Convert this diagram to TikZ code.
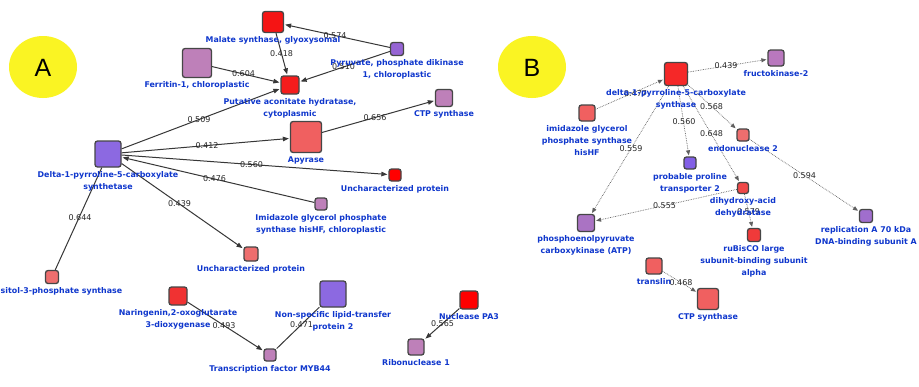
\documentclass[tikz,border=0pt]{standalone}
\usepackage{fontspec}
\setmainfont{DejaVu Sans}
\newfontfamily\letterfont{Liberation Sans}
\usetikzlibrary{arrows.meta,calc,positioning}

\definecolor{bord}{RGB}{70,70,70}
\definecolor{labblue}{RGB}{15,55,205}
\definecolor{elabc}{RGB}{40,40,40}
\definecolor{edgec}{RGB}{55,55,55}
\definecolor{edgeBc}{RGB}{95,95,95}
\definecolor{yel}{RGB}{250,244,35}
\definecolor{cRed0}{RGB}{255,0,0}
\definecolor{cRed1}{RGB}{245,20,20}
\definecolor{cRed2}{RGB}{245,28,28}
\definecolor{cRed3}{RGB}{240,50,50}
\definecolor{cSalm}{RGB}{240,96,96}
\definecolor{cSalm2}{RGB}{238,110,110}
\definecolor{cPink}{RGB}{190,128,185}
\definecolor{cPurp}{RGB}{140,105,225}
\definecolor{cPurp2}{RGB}{150,100,212}
\definecolor{bRed}{RGB}{245,40,40}
\definecolor{bRed2}{RGB}{240,72,72}
\definecolor{bRed3}{RGB}{240,58,58}
\definecolor{bSalm}{RGB}{240,96,96}
\definecolor{bSalm2}{RGB}{238,110,110}
\definecolor{bPinkP}{RGB}{185,120,190}
\definecolor{bPurp}{RGB}{130,95,230}
\definecolor{bPurp2}{RGB}{160,110,205}
\definecolor{bPurp3}{RGB}{170,115,195}

\tikzset{
  box/.style={draw=bord, line width=1.3pt, rounded corners=2.5pt, minimum size=#1, inner sep=0pt},
  lab/.style={text=labblue, font=\bfseries\fontsize{7.9}{12}\selectfont, align=center, inner sep=0pt},
  elab/.style={text=elabc, font=\fontsize{8}{9}\selectfont, inner sep=0pt},
  edgeA/.style={draw=edgec, line width=1pt, -{Triangle[length=6pt,width=4.5pt]}, shorten >=1pt},
  edgeAn/.style={draw=edgec, line width=1pt},
  edgeB/.style={draw=edgeBc, line width=0.7pt, densely dotted, -{Triangle[length=5pt,width=4pt]}, shorten >=1pt},
  bigletter/.style={font=\letterfont\fontsize{25}{25}\selectfont, text=black, inner sep=0pt}
}

\begin{document}
\begin{tikzpicture}[x=1pt,y=-1pt]
\useasboundingbox (0,0) rectangle (919,386);
\fill[white] (0,0) rectangle (919,386);

% panel letters
\fill[yel] (43,67) ellipse [x radius=34, y radius=31];
\node[bigletter] (letA) at (43,67.5) {A};
\fill[yel] (532,67) ellipse [x radius=34, y radius=31];
\node[bigletter] (letB) at (532,68) {B};

% ---------- Panel A nodes ----------
\node[box=21, fill=cRed1] (mal) at (273,22) {};
\node[box=13, fill=cPurp2] (pyr) at (397,49) {};
\node[box=29, fill=cPink] (fer) at (197,63) {};
\node[box=18, fill=cRed2] (put) at (290,85) {};
\node[box=17, fill=cPink] (ctpA) at (444,98) {};
\node[box=31, fill=cSalm] (apy) at (306,137) {};
\node[box=26, fill=cPurp] (p5cs) at (108,154) {};
\node[box=12, fill=cRed0] (unc1) at (395,175) {};
\node[box=12, fill=cPink] (imiA) at (321,204) {};
\node[box=14, fill=cSalm2] (unc2) at (251,254) {};
\node[box=13, fill=cSalm2] (ino) at (52,277) {};
\node[box=18, fill=cRed3] (nar) at (178,296) {};
\node[box=26, fill=cPurp] (nsl) at (333,294) {};
\node[box=12, fill=cPink] (myb) at (270,355) {};
\node[box=18, fill=cRed0] (nuc) at (469,300) {};
\node[box=16, fill=cPink] (rib) at (416,347) {};

% ---------- Panel A edges ----------
\draw[edgeA] (pyr) -- (mal);
\draw[edgeA] (mal) -- (put);
\draw[edgeA] (pyr) -- (put);
\draw[edgeA] (fer) -- (put);
\draw[edgeA] (p5cs) -- (put);
\draw[edgeA] (apy) -- (ctpA);
\draw[edgeA] (p5cs) -- (apy);
\draw[edgeA] (p5cs) -- (unc1);
\draw[edgeA] (imiA) -- (p5cs);
\draw[edgeA] (p5cs) -- (unc2);
\draw[edgeAn] (ino) -- (p5cs);
\draw[edgeA] (nar) -- (myb);
\draw[edgeAn] (myb) -- (nsl);
\draw[edgeA] (nuc) -- (rib);

\node[elab] (e1) at ($(pyr)!0.5!(mal)$) {0.574};
\node[elab] (e2) at ($(mal)!0.5!(put)$) {0.418};
\node[elab] (e3) at ($(pyr)!0.5!(put)$) {0.510};
\node[elab] (e4) at ($(fer)!0.5!(put)$) {0.604};
\node[elab] (e5) at ($(p5cs)!0.5!(put)$) {0.509};
\node[elab] (e6) at ($(apy)!0.5!(ctpA)$) {0.656};
\node[elab] (e7) at ($(p5cs)!0.5!(apy)$) {0.412};
\node[elab] (e8) at ($(p5cs)!0.5!(unc1)$) {0.560};
\node[elab] (e9) at ($(imiA)!0.5!(p5cs)$) {0.476};
\node[elab] (e10) at ($(p5cs)!0.5!(unc2)$) {0.439};
\node[elab] (e11) at ($(ino)!0.5!(p5cs)+(0,2)$) {0.644};
\node[elab] (e12) at ($(nar)!0.5!(myb)$) {0.493};
\node[elab] (e13) at ($(myb)!0.5!(nsl)$) {0.471};
\node[elab] (e14) at ($(nuc)!0.5!(rib)$) {0.565};

% ---------- Panel A labels ----------
\node[lab, below=3.5pt of mal] (malL) {Malate synthase, glyoxysomal};
\node[lab, below=3.5pt of pyr] (pyrL) {Pyruvate, phosphate dikinase\\1, chloroplastic};
\node[lab, below=3.5pt of fer] (ferL) {Ferritin-1, chloroplastic};
\node[lab, below=3.5pt of put] (putL) {Putative aconitate hydratase,\\cytoplasmic};
\node[lab, below=3.5pt of ctpA] (ctpAL) {CTP synthase};
\node[lab, below=3.5pt of apy] (apyL) {Apyrase};
\node[lab, below=3.5pt of p5cs] (p5csL) {Delta-1-pyrroline-5-carboxylate\\synthetase};
\node[lab, below=3.5pt of unc1] (unc1L) {Uncharacterized protein};
\node[lab, below=3.5pt of imiA] (imiAL) {Imidazole glycerol phosphate\\synthase hisHF, chloroplastic};
\node[lab, below=3.5pt of unc2] (unc2L) {Uncharacterized protein};
\node[lab, anchor=north west] (inoL) at ($(ino.south)+(-51.5,3.5)$) {sitol-3-phosphate synthase};
\node[lab, below=3.5pt of nar] (narL) {Naringenin,2-oxoglutarate\\3-dioxygenase};
\node[lab, below=3.5pt of nsl] (nslL) {Non-specific lipid-transfer\\protein 2};
\node[lab, below=3.5pt of myb] (mybL) {Transcription factor MYB44};
\node[lab, below=3.5pt of nuc] (nucL) {Nuclease PA3};
\node[lab, below=3.5pt of rib] (ribL) {Ribonuclease 1};

% ---------- Panel B nodes ----------
\node[box=23, fill=bRed] (p5csB) at (676,74) {};
\node[box=16, fill=bPinkP] (fru) at (776,58) {};
\node[box=16, fill=bSalm] (imiB) at (587,113) {};
\node[box=12, fill=bPurp] (pro) at (690,163) {};
\node[box=12, fill=bSalm2] (endo) at (743,135) {};
\node[box=11, fill=bRed2] (dhad) at (743,188) {};
\node[box=13, fill=bPurp2] (rep) at (866,216) {};
\node[box=17, fill=bPurp3] (pepck) at (586,223) {};
\node[box=13, fill=bRed3] (rub) at (754,235) {};
\node[box=16, fill=bSalm] (tra) at (654,266) {};
\node[box=21, fill=bSalm] (ctpB) at (708,299) {};

% ---------- Panel B edges ----------
\draw[edgeB] (p5csB) -- (fru);
\draw[edgeB] (imiB) -- (p5csB);
\draw[edgeB] (p5csB) -- (endo);
\draw[edgeB] (p5csB) -- (pro);
\draw[edgeB] (p5csB) -- (dhad);
\draw[edgeB] (p5csB) -- (pepck);
\draw[edgeB] (endo) -- (rep);
\draw[edgeB] (dhad) -- (pepck);
\draw[edgeB] (dhad) -- (rub);
\draw[edgeB] (tra) -- (ctpB);

\node[elab] (f1) at ($(p5csB)!0.5!(fru)$) {0.439};
\node[elab] (f2) at ($(imiB)!0.5!(p5csB)+(4,0)$) {0.477};
\node[elab] (f3) at ($(p5csB)!0.5!(endo)+(2,2)$) {0.568};
\node[elab] (f4) at ($(p5csB)!0.5!(pro)+(1,3)$) {0.560};
\node[elab] (f5) at ($(p5csB)!0.5!(dhad)+(2,3)$) {0.648};
\node[elab] (f6) at ($(p5csB)!0.5!(pepck)$) {0.559};
\node[elab] (f7) at ($(endo)!0.5!(rep)$) {0.594};
\node[elab] (f8) at ($(dhad)!0.5!(pepck)$) {0.555};
\node[elab] (f9) at ($(dhad)!0.5!(rub)$) {0.579};
\node[elab] (f10) at ($(tra)!0.5!(ctpB)$) {0.468};

% ---------- Panel B labels ----------
\node[lab, below=3.5pt of p5csB] (p5csBL) {delta-1-pyrroline-5-carboxylate\\synthase};
\node[lab, below=3.5pt of fru] (fruL) {fructokinase-2};
\node[lab, below=3.5pt of imiB] (imiBL) {imidazole glycerol\\phosphate synthase\\hisHF};
\node[lab, below=3.5pt of pro] (proL) {probable proline\\transporter 2};
\node[lab, below=3.5pt of endo] (endoL) {endonuclease 2};
\node[lab, below=3.5pt of dhad] (dhadL) {dihydroxy-acid\\dehydratase};
\node[lab, below=3.5pt of rep] (repL) {replication A 70 kDa\\DNA-binding subunit A};
\node[lab, below=3.5pt of pepck] (pepckL) {phosphoenolpyruvate\\carboxykinase (ATP)};
\node[lab, below=3.5pt of rub] (rubL) {ruBisCO large\\subunit-binding subunit\\alpha};
\node[lab, below=3.5pt of tra] (traL) {translin};
\node[lab, below=3.5pt of ctpB] (ctpBL) {CTP synthase};
\end{tikzpicture}
\end{document}
